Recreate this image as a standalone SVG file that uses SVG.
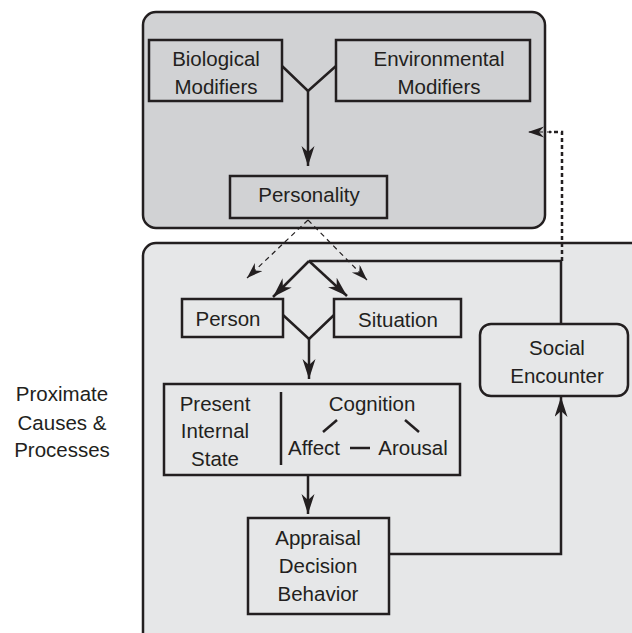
<svg xmlns="http://www.w3.org/2000/svg" width="632" height="633" viewBox="0 0 632 633">
<style>
text{font-family:"Liberation Sans",Arial,sans-serif;font-size:20.5px;fill:#231f20;text-anchor:middle}
.box{fill:none;stroke:#231f20;stroke-width:2.5}
.ln{fill:none;stroke:#231f20;stroke-width:2.5}
.dash{fill:none;stroke:#231f20;stroke-width:1.2;stroke-dasharray:5 4}
.dot{fill:none;stroke:#231f20;stroke-width:2.5;stroke-dasharray:4 3}
</style>
<defs>
<marker id="ah" markerUnits="userSpaceOnUse" markerWidth="22" markerHeight="14" refX="20" refY="6.5" orient="auto">
<path d="M0,0 L20,6.5 L0,13 L6,6.5 z" fill="#231f20"/>
</marker>
<marker id="ahs" markerUnits="userSpaceOnUse" markerWidth="18" markerHeight="12" refX="16" refY="5.5" orient="auto">
<path d="M0,0 L16,5.5 L0,11 L5,5.5 z" fill="#231f20"/>
</marker>
</defs>
<rect width="632" height="633" fill="#ffffff"/>
<g id="distal">
<rect x="143" y="12" width="402" height="216" rx="13" fill="#d1d2d4" stroke="#231f20" stroke-width="2.5"/>
</g>
<g id="proximate">
<rect x="143" y="243" width="520" height="420" rx="13" fill="#e6e7e8" stroke="#231f20" stroke-width="2.5"/>
</g>
<g id="proximate-label">
<text x="62" y="401">Proximate</text>
<text x="62" y="430">Causes &amp;</text>
<text x="62" y="457">Processes</text>
</g>
<g id="biological">
<rect class="box" x="149" y="40" width="133" height="61"/>
<text x="216" y="66">Biological</text>
<text x="216" y="94">Modifiers</text>
</g>
<g id="environmental">
<rect class="box" x="336" y="40" width="194" height="61"/>
<text x="439" y="66">Environmental</text>
<text x="439" y="94">Modifiers</text>
</g>
<g id="personality">
<rect class="box" x="230" y="176" width="157" height="42"/>
<text x="309" y="202">Personality</text>
</g>
<g id="person">
<rect class="box" x="182" y="299" width="101" height="38"/>
<text x="228" y="326">Person</text>
</g>
<g id="situation">
<rect class="box" x="334" y="299" width="127" height="38"/>
<text x="398" y="327">Situation</text>
</g>
<g id="state">
<rect class="box" x="164" y="384" width="296" height="91"/>
<line class="ln" x1="281" y1="392" x2="281" y2="465"/>
<text x="215" y="411">Present</text>
<text x="215" y="438">Internal</text>
<text x="215" y="466">State</text>
<text x="372" y="411">Cognition</text>
<text x="314" y="455">Affect</text>
<text x="413" y="455">Arousal</text>
<line class="ln" x1="323" y1="432" x2="337" y2="420"/>
<line class="ln" x1="405" y1="420" x2="419" y2="432"/>
<line class="ln" x1="350" y1="448" x2="370" y2="448"/>
</g>
<g id="appraisal">
<rect class="box" x="248" y="518" width="141" height="96"/>
<text x="318" y="545">Appraisal</text>
<text x="318" y="573">Decision</text>
<text x="318" y="601">Behavior</text>
</g>
<g id="social">
<rect class="box" x="480" y="324" width="148" height="72" rx="11"/>
<text x="557" y="355">Social</text>
<text x="557" y="383">Encounter</text>
</g>
<g id="connectors">
<polyline class="ln" points="282,66 308,91 336,66"/>
<line class="ln" x1="308" y1="91" x2="308" y2="166" marker-end="url(#ah)"/>
<line class="dash" x1="308" y1="220" x2="247" y2="278" marker-end="url(#ahs)"/>
<line class="dash" x1="308" y1="220" x2="367" y2="280" marker-end="url(#ahs)"/>
<polyline class="ln" points="561,323 561,261 309,261"/>
<line class="ln" x1="309" y1="261" x2="273" y2="297" marker-end="url(#ah)"/>
<line class="ln" x1="309" y1="261" x2="347" y2="296" marker-end="url(#ah)"/>
<polyline class="dot" points="562,261 562,132 549,132"/>
<line class="dash" x1="552" y1="132" x2="528" y2="132" marker-end="url(#ahs)"/>
<polyline class="ln" points="283,315 309,339 334,315"/>
<line class="ln" x1="309" y1="339" x2="309" y2="379" marker-end="url(#ah)"/>
<line class="ln" x1="308" y1="475" x2="308" y2="514" marker-end="url(#ah)"/>
<polyline class="ln" points="389,554 561,554 561,397" marker-end="url(#ah)"/>
</g>
</svg>
